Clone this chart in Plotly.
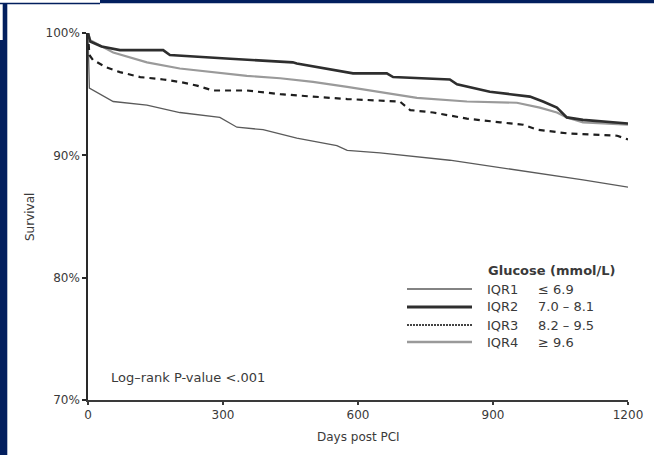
import plotly.graph_objects as go

# ---------------- data ----------------
days_iqr1 = [0, 3, 56, 131, 204, 293, 331, 389, 464, 553, 576, 649, 804, 900, 1027, 1100, 1200]
surv_iqr1 = [100, 95.5, 94.4, 94.1, 93.5, 93.1, 92.3, 92.1, 91.4, 90.8, 90.4, 90.2, 89.6, 89.1, 88.4, 88.0, 87.4]

days_iqr2 = [0, 5, 30, 71, 167, 182, 316, 455, 464, 589, 664, 678, 804, 820, 893, 982, 1011, 1042, 1064, 1100, 1200]
surv_iqr2 = [100, 99.3, 98.9, 98.6, 98.6, 98.2, 97.9, 97.6, 97.5, 96.7, 96.7, 96.4, 96.2, 95.8, 95.2, 94.8, 94.4, 93.9, 93.1, 92.9, 92.6]

days_iqr3 = [0, 3, 11, 40, 71, 116, 167, 204, 242, 278, 353, 427, 500, 576, 693, 716, 767, 842, 916, 967, 998, 1064, 1176, 1200]
surv_iqr3 = [100, 98.2, 97.8, 97.2, 96.8, 96.4, 96.2, 96.0, 95.7, 95.3, 95.3, 95.0, 94.8, 94.6, 94.4, 93.7, 93.5, 93.0, 92.7, 92.5, 92.1, 91.8, 91.6, 91.3]

days_iqr4 = [0, 5, 56, 131, 204, 278, 353, 427, 500, 576, 649, 731, 842, 953, 1004, 1042, 1064, 1100, 1200]
surv_iqr4 = [100, 99.4, 98.4, 97.6, 97.1, 96.8, 96.5, 96.3, 96.0, 95.6, 95.2, 94.7, 94.4, 94.3, 93.9, 93.5, 93.1, 92.7, 92.5]

group_names = ["IQR1", "IQR2", "IQR3", "IQR4"]
group_ranges = ["\u2264 6.9", "7.0 \u2013 8.1", "8.2 \u2013 9.5", "\u2265 9.6"]
x_ticks = [0, 300, 600, 900, 1200]
y_ticks = [70, 80, 90, 100]
y_tick_labels = ["70%", "80%", "90%", "100%"]

# ---------------- layout constants ----------------
W, H = 654, 455
L, R, T, B = 88, 26, 33, 55
PW, PH = W - L - R, H - T - B
FONT = "DejaVu Sans, Arial, sans-serif"
TXT = "#3a3a3a"
NAVY = "#021f5e"


def px_x(px):
    return (px - L) / PW


def px_y(py):
    return (H - B - py) / PH


styles = [
    dict(color="#5a5a5a", width=1.3, dash="solid"),
    dict(color="#2e2e2e", width=2.6, dash="solid"),
    dict(color="#1e1e1e", width=2.2, dash="6px,5px"),
    dict(color="#9a9a9a", width=2.2, dash="solid"),
]
legend_styles = [
    dict(color="#5a5a5a", width=1.4, dash="solid"),
    dict(color="#2e2e2e", width=3, dash="solid"),
    dict(color="#444444", width=2.2, dash="2px,1px"),
    dict(color="#9a9a9a", width=2.6, dash="solid"),
]

fig = go.Figure()
series = [(days_iqr1, surv_iqr1), (days_iqr2, surv_iqr2), (days_iqr3, surv_iqr3), (days_iqr4, surv_iqr4)]
order = [0, 2, 3, 1]
for i in order:
    d, s = series[i]
    fig.add_trace(go.Scatter(x=d, y=s, mode="lines", line=styles[i], name=group_names[i],
                             showlegend=False, cliponaxis=False))

shapes = []
annotations = []

# navy frame pieces
shapes += [
    dict(type="rect", xref="paper", yref="paper", x0=px_x(100), x1=px_x(W), y0=px_y(3.3), y1=px_y(0),
         fillcolor=NAVY, line_width=0, layer="below"),
    dict(type="rect", xref="paper", yref="paper", x0=px_x(0), x1=px_x(100), y0=px_y(4.2), y1=px_y(2.7),
         fillcolor=NAVY, line_width=0, layer="below"),
    dict(type="rect", xref="paper", yref="paper", x0=px_x(2.7), x1=px_x(7.3), y0=px_y(40), y1=px_y(4),
         fillcolor=NAVY, line_width=0, layer="below"),
    dict(type="rect", xref="paper", yref="paper", x0=px_x(0), x1=px_x(7.3), y0=px_y(H), y1=px_y(40),
         fillcolor=NAVY, line_width=0, layer="below"),
]

# manual legend
annotations.append(dict(text="<b>Glucose (mmol/L)</b>", xref="paper", yref="paper", x=px_x(486), y=px_y(270),
                        xanchor="left", yanchor="middle", showarrow=False, font=dict(size=13, color=TXT, family=FONT)))
row_y = [289, 307, 325, 342]
for i in range(4):
    ls = legend_styles[i]
    shapes.append(dict(type="line", xref="paper", yref="paper", x0=px_x(407), x1=px_x(472),
                       y0=px_y(row_y[i]), y1=px_y(row_y[i]), line=ls))
    annotations.append(dict(text=group_names[i], xref="paper", yref="paper", x=px_x(485), y=px_y(row_y[i]),
                            xanchor="left", yanchor="middle", showarrow=False,
                            font=dict(size=13, color=TXT, family=FONT)))
    annotations.append(dict(text=group_ranges[i], xref="paper", yref="paper", x=px_x(536), y=px_y(row_y[i]),
                            xanchor="left", yanchor="middle", showarrow=False,
                            font=dict(size=13, color=TXT, family=FONT)))

annotations.append(dict(text="Log\u2013rank P-value <.001", xref="paper", yref="paper", x=px_x(109), y=px_y(377),
                        xanchor="left", yanchor="middle", showarrow=False, font=dict(size=13, color=TXT, family=FONT)))
annotations.append(dict(text="Survival", xref="paper", yref="paper", x=px_x(30), y=px_y(217), textangle=-90,
                        xanchor="center", yanchor="middle", showarrow=False, font=dict(size=12, color=TXT, family=FONT)))
annotations.append(dict(text="Days post PCI", xref="paper", yref="paper", x=px_x(358), y=px_y(437),
                        xanchor="center", yanchor="middle", showarrow=False, font=dict(size=12, color=TXT, family=FONT)))

fig.update_layout(
    width=W, height=H,
    margin=dict(l=L, r=R, t=T, b=B, pad=0),
    paper_bgcolor="white", plot_bgcolor="white",
    shapes=shapes, annotations=annotations,
    showlegend=False,
    font=dict(family=FONT, color=TXT, size=12),
)
fig.update_xaxes(range=[0, 1200], tickvals=x_ticks, ticktext=[str(v) for v in x_ticks],
                 showgrid=False, zeroline=False, showline=True, linecolor="#3a3a3a", linewidth=2,
                 ticks="outside", ticklen=3, tickcolor="#3a3a3a", tickwidth=1.5,
                 tickfont=dict(size=12, color=TXT, family=FONT))
fig.update_yaxes(range=[70, 100], tickvals=y_ticks, ticktext=y_tick_labels,
                 showgrid=False, zeroline=False, showline=True, linecolor="#2a2a2a", linewidth=1.5,
                 ticks="outside", ticklen=4, tickcolor="#2a2a2a", tickwidth=1.5,
                 tickfont=dict(size=12, color=TXT, family=FONT))

fig.write_html("out.html")
